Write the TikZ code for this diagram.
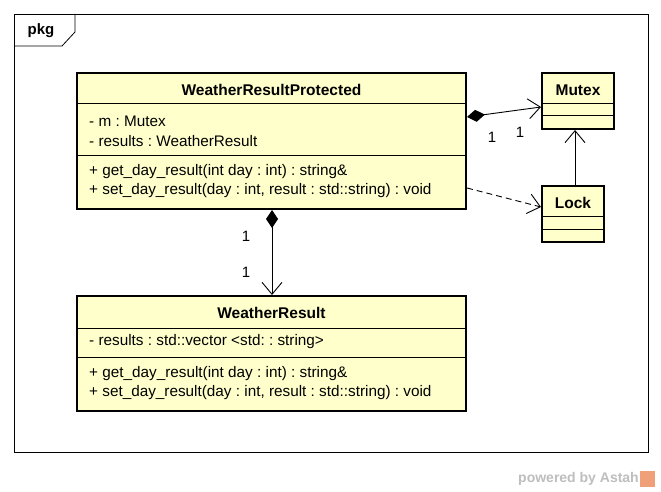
\documentclass[tikz,border=0pt]{standalone}
\usepackage{fontspec}
\setmainfont{Liberation Sans}
\usetikzlibrary{arrows.meta}
\definecolor{cls}{RGB}{255,255,204}
\definecolor{astahgrey}{RGB}{190,190,190}
\definecolor{astahor}{RGB}{240,160,120}
\frenchspacing
\tikzset{
  box/.style={draw=black, line width=2.6pt, fill=cls},
  sep/.style={draw=black, line width=1pt},
  ttl/.style={font=\fontsize{15.5}{17}\selectfont\bfseries, inner sep=0pt},
  mem/.style={font=\fontsize{15.3}{17}\selectfont, inner sep=0pt, anchor=west},
  mult/.style={font=\fontsize{15}{17}\selectfont, inner sep=0pt},
  conn/.style={draw=black, line width=0.9pt},
  openarr/.style={-{Straight Barb[length=12pt,width=20pt,line width=0.9pt]}},
  compoarr/.style={arrows={{Diamond[length=18pt,width=12pt,fill=black]}-{Straight Barb[length=12pt,width=20pt,line width=0.9pt]}}},
}
\begin{document}
\begin{tikzpicture}[x=1pt,y=-1pt]
\useasboundingbox (0,0) rectangle (661,492);
\fill[white] (0,0) rectangle (661,492);
% frame
\draw[line width=0.8pt] (14,14) rectangle (648,452);
\draw[line width=0.8pt] (14,46) -- (62,46) -- (75,32) -- (75,14);
\node[font=\fontsize{15}{17}\selectfont\bfseries, inner sep=0pt] (pkg) at (41,31) {pkg};

% WeatherResultProtected
\path[box] (77,73) rectangle (466,209);
\node (wrp) [minimum width=389pt, minimum height=136pt, inner sep=0pt] at (271.5,141) {};
\draw[sep] (77,104) -- (466,104);
\draw[sep] (77,155) -- (466,155);
\node[ttl] (wrpt) at (271.5,90) {WeatherResultProtected};
\node[mem] (wrpa1) at (89,121) {- m : Mutex};
\node[mem] (wrpa2) at (89,141) {- results : WeatherResult};
\node[mem] (wrpo1) at (89,172) {+ get\_day\_result(int day : int) : string\&};
\node[mem] (wrpo2) at (89,191) {+ set\_day\_result(day : int, result : std::string) : void};

% Mutex
\path[box] (542,73) rectangle (614,129);
\node (mutex) [minimum width=72pt, minimum height=56pt, inner sep=0pt] at (578,101) {};
\draw[sep] (542,104) -- (614,104);
\draw[sep] (542,116) -- (614,116);
\node[ttl] (mutext) at (578,90) {Mutex};

% Lock
\path[box] (542,186) rectangle (604,242);
\node (lock) [minimum width=62pt, minimum height=56pt, inner sep=0pt] at (573,214) {};
\draw[sep] (542,216) -- (604,216);
\draw[sep] (542,229) -- (604,229);
\node[ttl] (lockt) at (573,203) {Lock};

% WeatherResult
\path[box] (77,296) rectangle (466,411);
\node (wr) [minimum width=389pt, minimum height=115pt, inner sep=0pt] at (271.5,353.5) {};
\draw[sep] (77,328) -- (466,328);
\draw[sep] (77,357) -- (466,357);
\node[ttl] (wrt) at (271.5,313) {WeatherResult};
\node[mem] (wra1) at (89,342) {- results : std::vector <std: : string>};
\node[mem] (wro1) at (89,374) {+ get\_day\_result(int day : int) : string\&};
\node[mem] (wro2) at (89,393) {+ set\_day\_result(day : int, result : std::string) : void};

% connectors
\coordinate (c1s) at (467,117);
\coordinate (c1e) at (541,107);
\draw[conn, compoarr] (c1s) -- (c1e);
\node[mult] (m1) at (492,137) {1};
\node[mult] (m2) at (520,132) {1};

\coordinate (c2s) at (575,185);
\coordinate (c2e) at (575,130);
\draw[conn, openarr] (c2s) -- (c2e);

\coordinate (c3s) at (467,188);
\coordinate (c3e) at (541,207);
\draw[conn, dash pattern=on 6pt off 4pt, openarr] (c3s) -- (c3e);

\coordinate (c4s) at (272,210);
\coordinate (c4e) at (272,295);
\draw[conn, compoarr] (c4s) -- (c4e);
\node[mult] (m3) at (246,236) {1};
\node[mult] (m4) at (246,272) {1};

% footer
\node[font=\fontsize{14}{16}\selectfont\bfseries, text=astahgrey, inner sep=0pt, anchor=east] (pw) at (639,479) {powered by Astah};
\fill[astahor] (640,471) rectangle (655,487);
\end{tikzpicture}
\end{document}
